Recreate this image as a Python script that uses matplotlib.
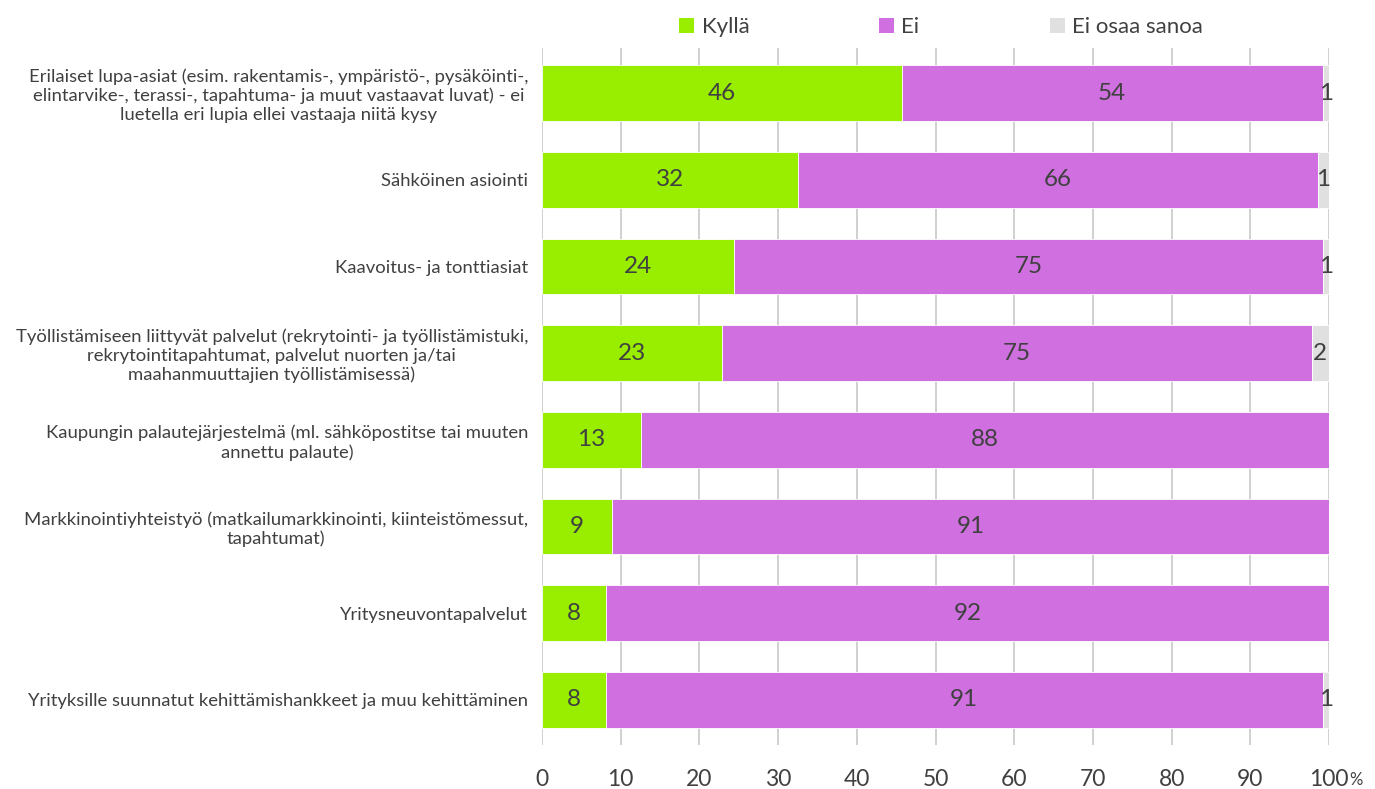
import matplotlib
matplotlib.use("Agg")
import matplotlib.pyplot as plt
from matplotlib import font_manager
from matplotlib.patches import Patch

categories = [
    "Erilaiset lupa-asiat (esim. rakentamis-, ympäristö-, pysäköinti-,\nelintarvike-, terassi-, tapahtuma- ja muut vastaavat luvat) - ei\nluetella eri lupia ellei vastaaja niitä kysy",
    "Sähköinen asiointi",
    "Kaavoitus- ja tonttiasiat",
    "Työllistämiseen liittyvät palvelut (rekrytointi- ja työllistämistuki,\nrekrytointitapahtumat, palvelut nuorten ja/tai\nmaahanmuuttajien työllistämisessä)",
    "Kaupungin palautejärjestelmä (ml. sähköpostitse tai muuten\nannettu palaute)",
    "Markkinointiyhteistyö (matkailumarkkinointi, kiinteistömessut,\ntapahtumat)",
    "Yritysneuvontapalvelut",
    "Yrityksille suunnatut kehittämishankkeet ja muu kehittäminen",
]

series_names = ["Kyllä", "Ei", "Ei osaa sanoa"]
kylla = [45.7, 32.5, 24.4, 22.9, 12.6, 8.9, 8.1, 8.1]
ei = [53.5, 66.1, 74.8, 74.9, 87.4, 91.1, 91.9, 91.1]
eos = [0.8, 1.4, 0.8, 2.2, 0.0, 0.0, 0.0, 0.8]
kylla_labels = ["46", "32", "24", "23", "13", "9", "8", "8"]
ei_labels = ["54", "66", "75", "75", "88", "91", "92", "91"]
eos_labels = ["1", "1", "1", "2", "", "", "", "1"]
xticks = [0, 10, 20, 30, 40, 50, 60, 70, 80, 90, 100]

colors = ["#99EE00", "#D070E0", "#E0E0E0"]
text_color = "#404040"

avail = {f.name for f in font_manager.fontManager.ttflist}
base_font = "Lato" if "Lato" in avail else "DejaVu Sans"
plt.rcParams["font.family"] = [base_font, "DejaVu Sans"]

W, H = 1375, 789
fig = plt.figure(figsize=(W / 100, H / 100), dpi=100)
ax = fig.add_axes([542 / W, 1 - 745 / H, (1329 - 542) / W, (745 - 48) / H])

y = list(range(len(categories)))
h = 0.645
left2 = [a + b for a, b in zip(kylla, ei)]
for vals, lefts, col, labs in [
    (kylla, [0] * len(kylla), colors[0], kylla_labels),
    (ei, kylla, colors[1], ei_labels),
    (eos, left2, colors[2], eos_labels),
]:
    bars = ax.barh(y, vals, left=lefts, height=h, color=col, edgecolor="white", linewidth=0.6, zorder=3)
    for b, lab in zip(bars, labs):
        if lab:
            ax.text(b.get_x() + b.get_width() / 2, b.get_y() + b.get_height() / 2, lab,
                    ha="center", va="center", fontsize=17.5, color=text_color, zorder=4)

ax.set_xlim(0, 100)
ax.set_ylim(len(categories) - 0.48, -0.52)
ax.set_xticks(xticks)
ax.set_xticklabels([str(t) for t in xticks], fontsize=16.5, color=text_color)
ax.set_yticks(y)
ax.set_yticklabels(categories, fontsize=13.3, color=text_color, linespacing=1.2)
for lab in ax.get_yticklabels():
    lab.set_multialignment("center")
ax.tick_params(axis="x", length=0, pad=17)
ax.tick_params(axis="y", length=0, pad=10)
ax.grid(axis="x", color="#C8C8C8", linewidth=1.2, zorder=0)
for s in ax.spines.values():
    s.set_visible(False)

fig.text(1349 / W, 1 - 785 / H, "%", fontsize=12, color=text_color, ha="left", va="baseline")

handles = [Patch(facecolor=c, edgecolor="none") for c in colors]
fig.legend(handles, series_names, loc="center", bbox_to_anchor=(941 / W, 1 - 27 / H), ncol=3,
           frameon=False, fontsize=16, labelcolor=text_color, handlelength=0.68, handleheight=0.68,
           handletextpad=0.32, columnspacing=5.85, borderpad=0)

fig.savefig("out.png", dpi=100)
